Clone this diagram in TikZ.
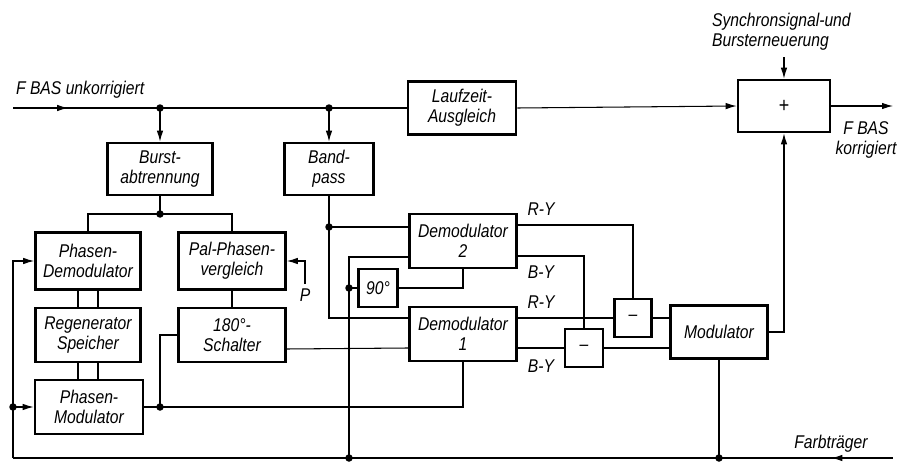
\documentclass[tikz,border=0pt]{standalone}
\usepackage{fontspec}
\setmainfont{Liberation Sans}[FakeStretch=0.85]
\usetikzlibrary{arrows.meta,decorations.markings}

\tikzset{
  blk/.style={draw, line width=1.5pt, inner sep=1pt, align=center},
  wire/.style={line width=0.6pt},
  dot/.style={circle, fill, inner sep=0pt, minimum size=0.15cm},
  lbl/.style={inner sep=1pt},
  midarrow/.style={postaction={decorate}, decoration={markings,
    mark=at position #1 with {\arrow{Latex[length=2.2mm,width=1.3mm]}}}},
  revarrow/.style={postaction={decorate}, decoration={markings,
    mark=at position #1 with {\arrowreversed{Latex[length=2.2mm,width=1.3mm]}}}}
}

\begin{document}
\begin{tikzpicture}[x=0.02cm, y=-0.02cm,
  font=\itshape\fontsize{10.5}{11.5}\selectfont,
  >={Latex[length=2.2mm,width=1.3mm]}]

\useasboundingbox (0,0) rectangle (897,463);

% Boxes upper row
\node[blk, minimum width=2.16cm, minimum height=1.06cm] (lzt) at (462,108) {Laufzeit-\\Ausgleich};
\node[blk, minimum width=1.84cm, minimum height=1.04cm, font=\large] (sum) at (784,106) {+};
\node[blk, minimum width=2.1cm, minimum height=1.04cm] (burst) at (160,169) {Burst-\\abtrennung};
\node[blk, minimum width=1.78cm, minimum height=1.04cm] (bp) at (329,169) {Band-\\pass};

% Boxes left column
\node[blk, minimum width=2.1cm, minimum height=1.14cm] (phdem) at (88,261) {Phasen-\\Demodulator};
\node[blk, minimum width=2.14cm, minimum height=1.14cm] (palv) at (232,261) {Pal-Phasen-\\vergleich};
\node[blk, minimum width=2.1cm, minimum height=1.08cm] (regsp) at (88,335) {Regenerator\\Speicher};
\node[blk, minimum width=2.14cm, minimum height=1.08cm] (sch) at (232,335) {180°-\\Schalter};
\node[blk, minimum width=2.16cm, minimum height=1.08cm] (phmod) at (89,407) {Phasen-\\Modulator};

% Demodulators and matrix
\node[blk, minimum width=2.14cm, minimum height=1.08cm] (dem2) at (463,241) {Demodulator\\2};
\node[blk, minimum width=2.14cm, minimum height=1.08cm] (dem1) at (463,334) {Demodulator\\1};
\node[blk, minimum width=0.78cm, minimum height=0.76cm] (ninety) at (378,288) {90°};
\node[blk, minimum width=0.74cm, minimum height=0.76cm] (minA) at (633,318) {--};
\node[blk, minimum width=0.76cm, minimum height=0.76cm] (minB) at (584,348) {--};
\node[blk, minimum width=1.94cm, minimum height=1.06cm] (modu) at (719,332) {Modulator};

% Free ends and junctions
\coordinate (fin) at (13,108);
\coordinate (fout) at (893,106);
\coordinate (syncin) at (784,57);
\coordinate (pin) at (305,284);
\coordinate (j1) at (160,108);
\coordinate (j2) at (329,108);
\coordinate (j3) at (160,214);
\coordinate (j4) at (160,407);
\coordinate (j5) at (329,227);
\coordinate (j6) at (349,288);
\coordinate (jl) at (13,407);
\coordinate (bl) at (13,458);
\coordinate (bm) at (349,458);
\coordinate (bmod) at (719,458);
\coordinate (bend) at (893,458);

% Texts
\node[lbl, anchor=south west] (tin) at (14,100) {F BAS unkorrigiert};
\node[lbl, anchor=west, align=left] (tsync) at (710,32) {Synchronsignal-und\\Bursterneuerung};
\node[lbl, align=center] (tout) at (866,140) {F BAS\\korrigiert};
\node[lbl] (tp) at (305,295) {P};
\node[lbl] (try2) at (541,209) {R-Y};
\node[lbl] (tby2) at (541,272) {B-Y};
\node[lbl] (try1) at (541,302) {R-Y};
\node[lbl] (tby1) at (541,366) {B-Y};
\node[lbl] (tcar) at (831,444) {Farbträger};

% Signal path
\draw[wire, midarrow=0.14] (fin) -- (lzt.west);
\draw[wire, ->] (j1) -- (burst.north);
\draw[wire, ->] (j2) -- (bp.north);
\draw[wire, ->] (lzt.east) -- (sum.west);
\draw[wire, ->] (sum.east) -- (fout);
\draw[wire, ->] (syncin) -- (sum.north);

% Burst branch
\draw[wire] (burst.south) -- (j3);
\draw[wire] (phdem.north) |- (j3) -| (palv.north);
\draw[wire, ->] (pin) |- (palv.east);
\draw[wire] ([xshift=-0.2cm]phdem.south) -- ([xshift=-0.2cm]regsp.north);
\draw[wire] ([xshift=0.2cm]phdem.south) -- ([xshift=0.2cm]regsp.north);
\draw[wire] ([xshift=-0.2cm]regsp.south) -- ([xshift=-0.2cm]regsp.south |- phmod.north);
\draw[wire] ([xshift=0.2cm]regsp.south) -- ([xshift=0.2cm]regsp.south |- phmod.north);
\draw[wire] (palv.south) -- (sch.north);

% Carrier feedback
\draw[wire, ->] (bl) |- (phdem.west);
\draw[wire, ->] (jl) -- (phmod.west);
\draw[wire] (phmod.east) -- (j4) -| (dem1.south);
\draw[wire] (j4) |- (sch.west);
\draw[wire] ([yshift=-0.28cm]sch.east) -- ([yshift=-0.28cm]dem1.west);

% Bandpass to demodulators
\draw[wire] (bp.south) -- (j5) |- ([yshift=0.32cm]dem1.west);
\draw[wire] (j5) -- (j5 -| dem2.west);
\draw[wire] (bm) |- ([yshift=-0.32cm]dem2.west);
\draw[wire] (j6) -- (ninety.west);
\draw[wire] (ninety.east) -| (dem2.south);

% Matrix
\draw[wire] ([yshift=0.32cm]dem2.east) -| (minA.north);
\draw[wire] ([yshift=-0.3cm]dem2.east) -| (minB.north);
\draw[wire] (dem1.east |- minA.west) -- (minA.west);
\draw[wire] (dem1.east |- minB.west) -- (minB.west);
\draw[wire] (minA.east) -- (modu.west |- minA.east);
\draw[wire] (minB.east) -- (modu.west |- minB.east);
\draw[wire, ->] (modu.east) -| (sum.south);
\draw[wire] (modu.south) -- (bmod);

% Carrier bus
\draw[wire, revarrow=0.93] (bl) -- (bend);

% Dots
\foreach \p in {j1,j2,j3,j4,j5,j6,jl,bm,bmod}
  \node[dot] at (\p) {};

\end{tikzpicture}
\end{document}
